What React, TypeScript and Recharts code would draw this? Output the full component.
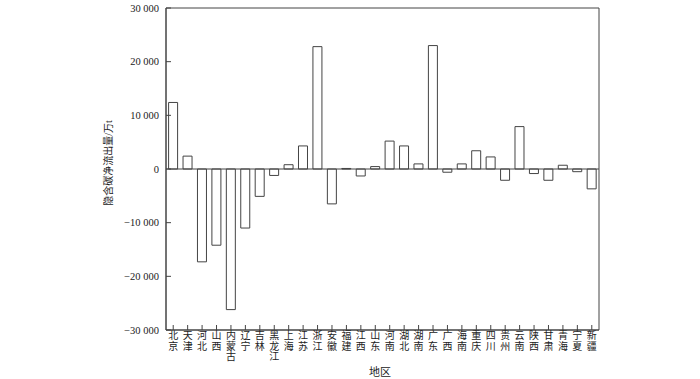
import React from 'react';
import { BarChart, Bar, XAxis, YAxis, ReferenceLine, ReferenceArea, Label } from 'recharts';

const regions = ['北京','天津','河北','山西','内蒙古','辽宁','吉林','黑龙江','上海','江苏','浙江','安徽','福建','江西','山东','河南','湖北','湖南','广东','广西','海南','重庆','四川','贵州','云南','陕西','甘肃','青海','宁夏','新疆'];
const netOutflow = [12400, 2400, -17300, -14200, -26200, -11000, -5100, -1200, 800, 4300, 22800, -6500, 100, -1300, 450, 5200, 4300, 950, 23000, -600, 950, 3400, 2250, -2100, 7900, -850, -2100, 700, -500, -3700];
const yTicks = [-30000, -20000, -10000, 0, 10000, 20000, 30000];

const data = regions.map((r, i) => ({ region: r, value: netOutflow[i] }));

const FONT = '"Liberation Serif", "Noto Sans CJK SC", serif';
const LINE = '#444';

const fmt = (v: number) => {
  const s = Math.abs(v).toString();
  const body = s.length > 3 ? s.slice(0, s.length - 3) + ' ' + s.slice(-3) : s;
  return (v < 0 ? '\u2212' : '') + body;
};

const XTick = (props: any) => {
  const { x, y, payload } = props;
  const chars = String(payload.value).split('');
  return (
    <g>
      {chars.map((c, i) => (
        <text key={i} x={x} y={y + 5 + i * 10.5} textAnchor="middle" dominantBaseline="hanging" fontSize={10} fontFamily={FONT} fill="#222">
          {c}
        </text>
      ))}
    </g>
  );
};

export default function App() {
  return (
    <div style={{ position: 'absolute', left: 0, top: 0, width: 700, height: 379, background: '#fff' }}>
      <BarChart width={700} height={379} data={data} margin={{ top: 8, right: 101, bottom: 0, left: 106 }} barCategoryGap="18%">
        <XAxis
          dataKey="region"
          interval={0}
          tick={<XTick />}
          tickLine={{ stroke: LINE }}
          tickSize={-5}
          axisLine={{ stroke: LINE }}
          height={49}
        />
        <YAxis
          domain={[-30000, 30000]}
          ticks={yTicks}
          tickFormatter={fmt}
          width={60}
          tickSize={-5}
          tickMargin={12}
          axisLine={{ stroke: LINE }}
          tickLine={{ stroke: LINE }}
          tick={{ fontSize: 10.5, fontFamily: FONT, fill: '#222' }}
        >
          <Label
            content={() => (
              <text x={110} y={163} transform="rotate(-90 110 163)" textAnchor="middle" dominantBaseline="middle" fontSize={10} fontFamily={FONT} fill="#222">
                隐含碳净流出量/万t
              </text>
            )}
          />
        </YAxis>
        <ReferenceArea y1={-30000} y2={30000} fill="none" fillOpacity={0} stroke={LINE} strokeWidth={1} />
        <ReferenceLine y={0} stroke={LINE} strokeWidth={1} />
        <Bar dataKey="value" fill="#fff" stroke={LINE} strokeWidth={1} isAnimationActive={false} />
        <text x={380} y={376} textAnchor="middle" fontSize={11} fontFamily={FONT} fill="#222">地区</text>
      </BarChart>
    </div>
  );
}
